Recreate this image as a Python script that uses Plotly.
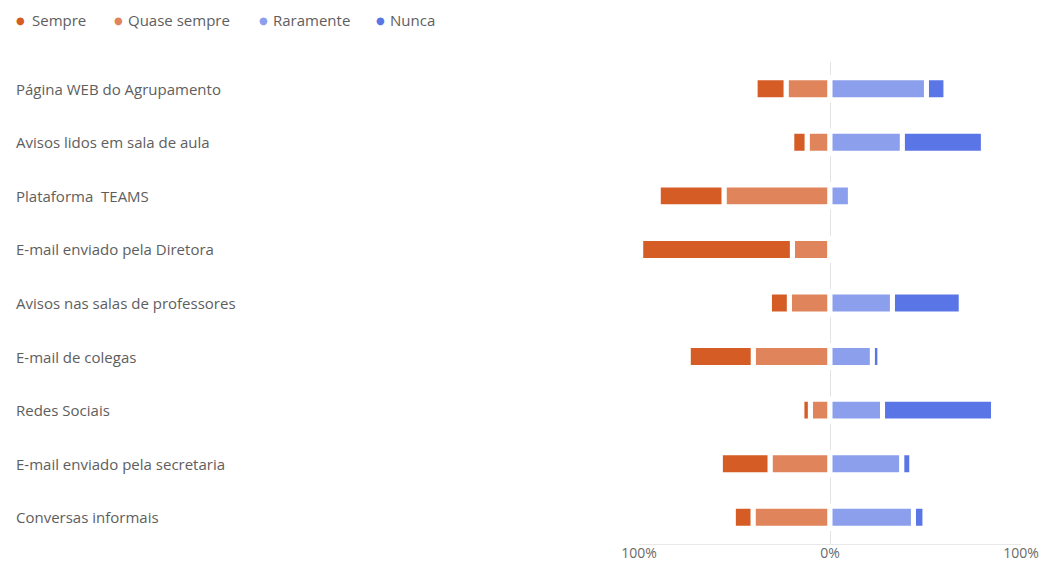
import plotly.graph_objects as go

# Survey: how often each communication channel is used
channels = [
    "Página WEB do Agrupamento",
    "Avisos lidos em sala de aula",
    "Plataforma  TEAMS",
    "E-mail enviado pela Diretora",
    "Avisos nas salas de professores",
    "E-mail de colegas",
    "Redes Sociais",
    "E-mail enviado pela secretaria",
    "Conversas informais",
]

# Percentages per answer
sempre = [16.2, 8.0, 34.4, 79.4, 10.4, 34.0, 4.4, 26.0, 10.3]
quase_sempre = [23.0, 12.0, 55.5, 19.7, 21.3, 40.2, 10.3, 31.4, 40.3]
raramente = [50.5, 37.9, 10.7, 0.0, 32.7, 22.2, 27.5, 37.6, 43.7]
nunca = [10.2, 42.4, 0.0, 0.0, 36.0, 3.9, 58.1, 5.2, 6.0]

series_names = ["Sempre", "Quase sempre", "Raramente", "Nunca"]
series_colors = ["#D65C25", "#E0855B", "#8C9FEC", "#5A75E6"]

tick_vals = [-100, 0, 100]
tick_text = ["100%", "0%", "100%"]

W, H = 1041, 565
M_L, M_R, M_T, M_B = 639, 20, 62, 21
PLOT_W = W - M_L - M_R
PLOT_H = H - M_T - M_B

FONT = "Open Sans"
TXT = "#5E5E5E"


def px_to_paper_x(px):
    return (px - M_L) / PLOT_W


def px_to_paper_y(py):
    return 1 + (M_T - py) / PLOT_H


fig = go.Figure()

# "Sempre" side goes to the left (negative), "Nunca" side to the right
stack = [
    ("Quase sempre", [-v for v in quase_sempre], series_colors[1]),
    ("Sempre", [-v for v in sempre], series_colors[0]),
    ("Raramente", raramente, series_colors[2]),
    ("Nunca", nunca, series_colors[3]),
]
for name, vals, color in stack:
    fig.add_trace(go.Bar(
        y=channels, x=vals, orientation="h", name=name,
        marker=dict(color=color, line=dict(color="white", width=5)),
        showlegend=False,
        hovertemplate="%{y}: %{x}%<extra>" + name + "</extra>",
    ))

annotations = []
# category labels, left aligned in the margin
for ch in channels:
    annotations.append(dict(
        x=px_to_paper_x(14), xref="paper", xanchor="left",
        y=ch, yref="y", yanchor="middle",
        text=ch, showarrow=False,
        font=dict(family=FONT, size=15, color=TXT),
    ))

# legend row
dot_px = [20.7, 118, 263, 380]
text_px = [30, 126, 271, 388]
leg_y = px_to_paper_y(20)
for name, color, dx, tx in zip(series_names, series_colors, dot_px, text_px):
    annotations.append(dict(
        x=px_to_paper_x(dx), xref="paper", xanchor="center",
        y=leg_y, yref="paper", yanchor="middle",
        text="●", showarrow=False,
        font=dict(family="DejaVu Sans", size=10, color=color),
    ))
    annotations.append(dict(
        x=px_to_paper_x(tx), xref="paper", xanchor="left",
        y=leg_y, yref="paper", yanchor="middle",
        text=name, showarrow=False,
        font=dict(family=FONT, size=15, color=TXT),
    ))

fig.update_layout(
    width=W, height=H,
    autosize=False,
    margin=dict(l=M_L, r=M_R, t=M_T, b=M_B, pad=0, autoexpand=False),
    barmode="relative",
    bargap=0.59,
    plot_bgcolor="white",
    paper_bgcolor="white",
    font=dict(family=FONT, size=15, color=TXT),
    annotations=annotations,
    xaxis=dict(
        range=[-100, 100],
        tickvals=tick_vals, ticktext=tick_text,
        showgrid=True, gridcolor="#E8E8E8", gridwidth=1,
        zeroline=True, zerolinecolor="#E3E3E3", zerolinewidth=1,
        showline=True, linecolor="#E8E8E8", linewidth=1,
        ticks="", tickfont=dict(family=FONT, size=14, color="#6A6A6A"),
        ticklabelstandoff=-4,
        automargin=False, fixedrange=True,
    ),
    yaxis=dict(
        type="category", categoryorder="array", categoryarray=channels,
        autorange="reversed",
        showticklabels=False, showgrid=False, zeroline=False,
        automargin=False, fixedrange=True,
    ),
)

fig.write_html("out.html")
